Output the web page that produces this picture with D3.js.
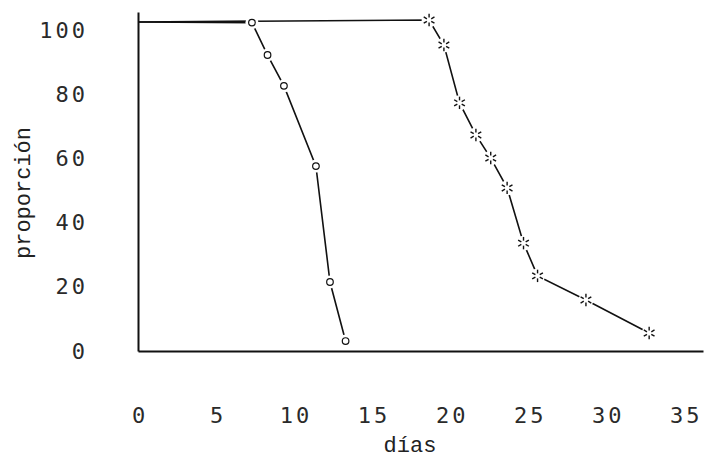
<!DOCTYPE html>
<html>
<head>
<meta charset="utf-8">
<script src="https://cdn.jsdelivr.net/npm/d3@7"></script>
<style>
  body { margin: 0; background: #fff; }
  .tick text { font-family: "DejaVu Sans Mono", monospace; font-size: 22px; letter-spacing: 3px; fill: #2a2a2a; }
  .title { font-family: "Liberation Mono", monospace; font-size: 22px; fill: #222; }
</style>
</head>
<body>
<div id="vis"></div>
<script>
// data
const circleDays = [0, 7.3, 8.3, 9.35, 11.4, 12.3, 13.3];
const circleProp = [102.5, 102.3, 92.2, 82.6, 57.6, 21.5, 3.1];
const starDays = [0, 18.65, 19.6, 20.6, 21.65, 22.6, 23.65, 24.7, 25.6, 28.7, 32.75];
const starProp = [102.5, 103.1, 95.3, 77.3, 67.3, 60.1, 50.8, 33.6, 23.4, 15.9, 5.6];
const xTicks = [0, 5, 10, 15, 20, 25, 30, 35];
const yTicks = [0, 20, 40, 60, 80, 100];

const FRAME_WIDTH = 704;
const FRAME_HEIGHT = 459;

const svg = d3.select("#vis")
  .append("svg")
    .attr("width", FRAME_WIDTH)
    .attr("height", FRAME_HEIGHT);

// scales
const X_SCALE = d3.scaleLinear().domain([0, 36.2]).range([138, 703]);
const Y_SCALE = d3.scaleLinear().domain([0, 105.6]).range([351, 12]);

// x axis (labels well below the line, no tick marks)
const xAxis = svg.append("g")
  .attr("transform", "translate(0," + Y_SCALE(0) + ")")
  .call(d3.axisBottom(X_SCALE).tickValues(xTicks).tickSize(0).tickPadding(56));
xAxis.select(".domain").attr("stroke", "#111").attr("stroke-width", 2);
xAxis.selectAll(".tick text").attr("dx", "1.5px");

// y axis
const yAxis = svg.append("g")
  .attr("transform", "translate(" + X_SCALE(0) + ",0)")
  .call(d3.axisLeft(Y_SCALE).tickValues(yTicks).tickSize(0).tickPadding(52));
yAxis.select(".domain").attr("stroke", "#111").attr("stroke-width", 2);
yAxis.selectAll(".tick text").attr("dx", "2px");

// axis titles
svg.append("text")
  .attr("class", "title")
  .attr("x", 410)
  .attr("y", 452)
  .attr("text-anchor", "middle")
  .text("días");

svg.append("text")
  .attr("class", "title")
  .attr("transform", "translate(30,193) rotate(-90)")
  .attr("text-anchor", "middle")
  .text("proporción");

// lines
const line = d3.line()
  .x(d => X_SCALE(d[0]))
  .y(d => Y_SCALE(d[1]));

const circlePts = d3.zip(circleDays, circleProp);
const starPts = d3.zip(starDays, starProp);

[circlePts, starPts].forEach(pts => {
  svg.append("path")
    .datum(pts)
    .attr("d", line)
    .attr("fill", "none")
    .attr("stroke", "#111")
    .attr("stroke-width", 1.6);
});

// circle markers (skip the start point on the axis), white halo makes the gap
svg.selectAll(".halo-c")
  .data(circlePts.slice(1))
  .enter()
  .append("circle")
    .attr("cx", d => X_SCALE(d[0]))
    .attr("cy", d => Y_SCALE(d[1]))
    .attr("r", 6.5)
    .attr("fill", "#fff");

svg.selectAll(".pt-c")
  .data(circlePts.slice(1))
  .enter()
  .append("circle")
    .attr("cx", d => X_SCALE(d[0]))
    .attr("cy", d => Y_SCALE(d[1]))
    .attr("r", 3.3)
    .attr("fill", "#fff")
    .attr("stroke", "#111")
    .attr("stroke-width", 1.2);

// star markers: hollow asterisk of six short spokes
const spokes = d3.range(6).map(i => i * Math.PI / 3);

const stars = svg.selectAll(".pt-s")
  .data(starPts.slice(1))
  .enter()
  .append("g")
    .attr("transform", d => "translate(" + X_SCALE(d[0]) + "," + Y_SCALE(d[1]) + ")");

stars.append("circle")
  .attr("r", 7.5)
  .attr("fill", "#fff");

stars.selectAll("line")
  .data(spokes)
  .enter()
  .append("line")
    .attr("x1", a => 2.5 * Math.sin(a))
    .attr("y1", a => -2.5 * Math.cos(a))
    .attr("x2", a => 6.2 * Math.sin(a))
    .attr("y2", a => -6.2 * Math.cos(a))
    .attr("stroke", "#111")
    .attr("stroke-width", 1.4);
</script>
</body>
</html>
